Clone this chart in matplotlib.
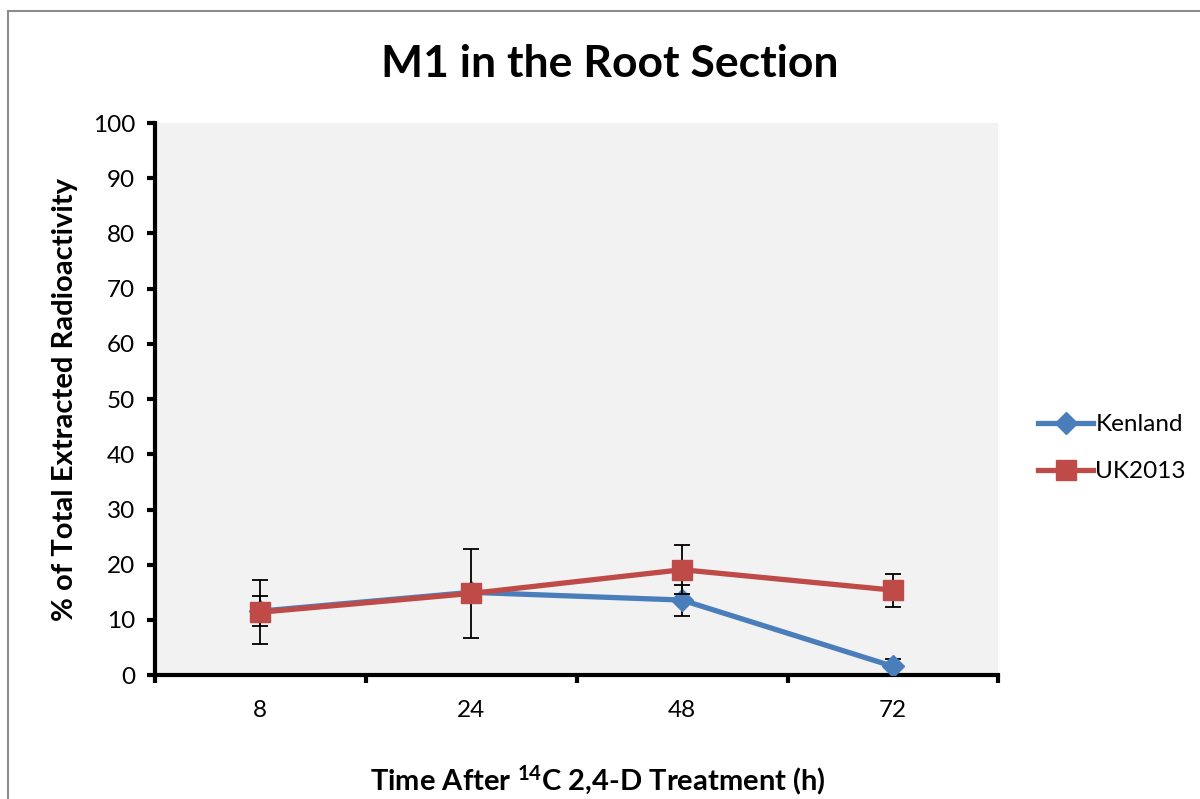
#!/usr/bin/env python

import numpy as np
import matplotlib
matplotlib.use('Agg')
from matplotlib import pyplot as plt
from matplotlib import patches as mpatches

# data
hours = ['8', '24', '48', '72']
kenland = [11.6, 15.0, 13.6, 1.6]
kenland_err = [2.7, 1.0, 2.8, 1.4]
uk2013 = [11.4, 14.8, 19.1, 15.4]
uk2013_err = [5.8, 8.1, 4.4, 3.0]

plt.rcParams['font.family'] = ['Lato', 'DejaVu Sans']
plt.rcParams['mathtext.fontset'] = 'custom'
plt.rcParams['mathtext.rm'] = 'Lato'
plt.rcParams['mathtext.bf'] = 'Lato:bold'


def MakePlot():
    fig = plt.figure(figsize=(12, 7.99), dpi=100)
    axe = fig.add_axes([0.129, 0.155, 0.703, 0.691])
    axe.set_facecolor('#F2F2F2')

    # outer chart frame
    fig.patches.append(mpatches.Rectangle((8 / 1200, -0.05), 1.1, 1 - 11 / 799 + 0.05,
                                          transform=fig.transFigure, fill=False,
                                          edgecolor='#8C8C8C', linewidth=1.5))

    x = np.arange(len(hours))
    axe.errorbar(x, kenland, yerr=kenland_err, fmt='none', ecolor='black',
                 elinewidth=1.3, capsize=6, capthick=1.3, zorder=2)
    axe.plot(x, kenland, color='#4A7EBB', linewidth=3.8, marker='D',
             markersize=11, label='Kenland', zorder=3)
    axe.errorbar(x, uk2013, yerr=uk2013_err, fmt='none', ecolor='black',
                 elinewidth=1.3, capsize=6, capthick=1.3, zorder=4)
    axe.plot(x, uk2013, color='#BE4B48', linewidth=3.8, marker='s',
             markersize=14, label='UK2013', zorder=5)

    axe.set_xlim(-0.5, 3.5)
    axe.set_ylim(0, 100)
    axe.set_yticks(range(0, 101, 10))
    axe.set_xticks(x)
    axe.set_xticklabels(hours)
    axe.set_xticks(np.arange(-0.5, 3.6, 1.0), minor=True)
    axe.tick_params(axis='x', which='major', length=0, labelsize=17.5, pad=18)
    axe.tick_params(axis='x', which='minor', length=6, width=3, direction='out')
    axe.tick_params(axis='y', length=6, width=3, direction='out', labelsize=17.5, pad=8)
    for s in ['left', 'bottom']:
        axe.spines[s].set_linewidth(3)
    axe.spines['right'].set_visible(False)
    axe.spines['top'].set_visible(False)

    fig.text(0.508, 0.92, 'M1 in the Root Section', ha='center', va='center',
             fontsize=32, fontweight='bold')
    fig.text(0.054, 0.5, '% of Total Extracted Radioactivity', ha='center',
             va='center', rotation=90, fontsize=21, fontweight='bold')
    fig.text(0.498, 0.024, r'Time After $\mathbf{^{14}}$C 2,4-D Treatment (h)',
             ha='center', va='center', fontsize=21, fontweight='bold')

    axe.legend(loc='center left', bbox_to_anchor=(0.847, 0.439),
               bbox_transform=fig.transFigure, frameon=False, fontsize=17.5,
               handlelength=2.25, handletextpad=0.1, labelspacing=1.05)
    plt.savefig('out.png', dpi=100)


def main():
    MakePlot()


if __name__ == '__main__':
    main()
